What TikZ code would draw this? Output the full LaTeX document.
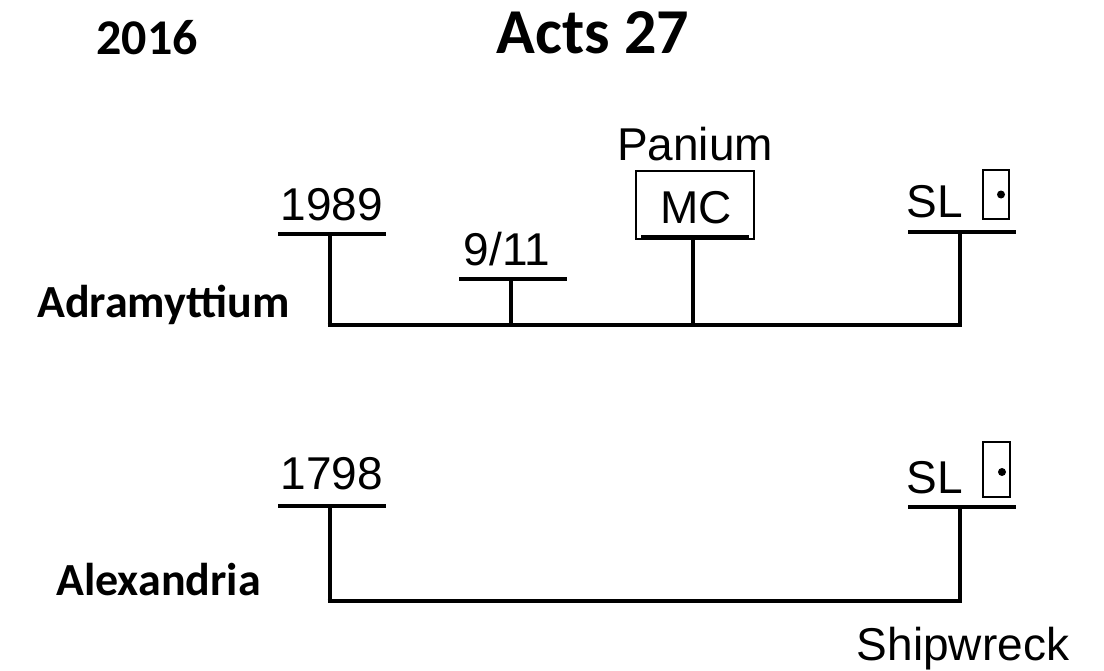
\documentclass[tikz,border=0pt]{standalone}
\usepackage{fontspec}
\setmainfont{Liberation Sans}
\newfontfamily\headfont{Carlito}
\begin{document}
\begin{tikzpicture}[x=0.75pt,y=-0.75pt,
    bar/.style={line width=3.6pt},
    thinbox/.style={draw,line width=1.1pt},
    lbl/.style={font=\fontsize{34.5}{34.5}\selectfont,inner sep=0pt,anchor=base},
    head/.style={font=\headfont\bfseries\fontsize{34.5}{34.5}\selectfont,inner sep=0pt,anchor=base west}]
    \useasboundingbox (0,0) rectangle (1104,671);

    % Titles
    \node[head,font=\headfont\bfseries\fontsize{37.5}{37.5}\selectfont,anchor=base] (year) at (147,55) {2016};
    \node[head,font=\headfont\bfseries\fontsize{48}{48}\selectfont,anchor=base] (title) at (593,53) {Acts 27};

    % Ports on the left
    \node[head] (adra) at (37,317) {Adramyttium};
    \node[head] (alex) at (56,595) {Alexandria};

    % Upper line: label, bar and stem
    \foreach \name/\x/\y/\label in {a1989/330/234/1989, a911/511/279/{9/11}, amc/693/237/MC, asl/960/232/SL} {
        \coordinate (top-\name) at (\x,\y);
        \coordinate (foot-\name) at (\x,325);
        \draw[bar] (\x-52,\y) -- (\x+56,\y);
        \draw[bar] (top-\name) -- (foot-\name);
    }
    \draw[bar] ([xshift=-1.8pt]foot-a1989) -- ([xshift=1.8pt]foot-asl);

    \node[lbl] (l1989) at (332,220) {1989};
    \node[lbl] (l911) at (507,265) {9/11};
    \node[lbl] (lmc) at (696,223) {MC};
    \node[lbl] (lsl) at (935,217) {SL};
    \node[lbl] (panium) at (695,160) {Panium};
    \node[thinbox,inner sep=0pt,minimum width=88.5pt,minimum height=51pt] (mcbox) at (695,205) {};
    \node[thinbox,inner sep=0pt,minimum width=19.5pt,minimum height=37pt] (slbox1) at (996,194.5) {};
    \fill (slbox1.center) ++(5,0) circle (3pt);

    % Lower line
    \foreach \name/\x/\y/\label in {b1798/330/506/1798, bsl/960/507/SL} {
        \coordinate (top-\name) at (\x,\y);
        \coordinate (foot-\name) at (\x,601);
        \draw[bar] (\x-52,\y) -- (\x+56,\y);
        \draw[bar] (top-\name) -- (foot-\name);
    }
    \draw[bar] ([xshift=-1.8pt]foot-b1798) -- ([xshift=1.8pt]foot-bsl);

    \node[lbl] (l1798) at (332,489) {1798};
    \node[lbl] (lsl2) at (935,493) {SL};
    \node[thinbox,inner sep=0pt,minimum width=20pt,minimum height=41pt] (slbox2) at (996.5,469.5) {};
    \fill (slbox2.center) ++(5.5,2.5) circle (3pt);

    \node[lbl] (wreck) at (963,660) {Shipwreck};
\end{tikzpicture}
\end{document}
